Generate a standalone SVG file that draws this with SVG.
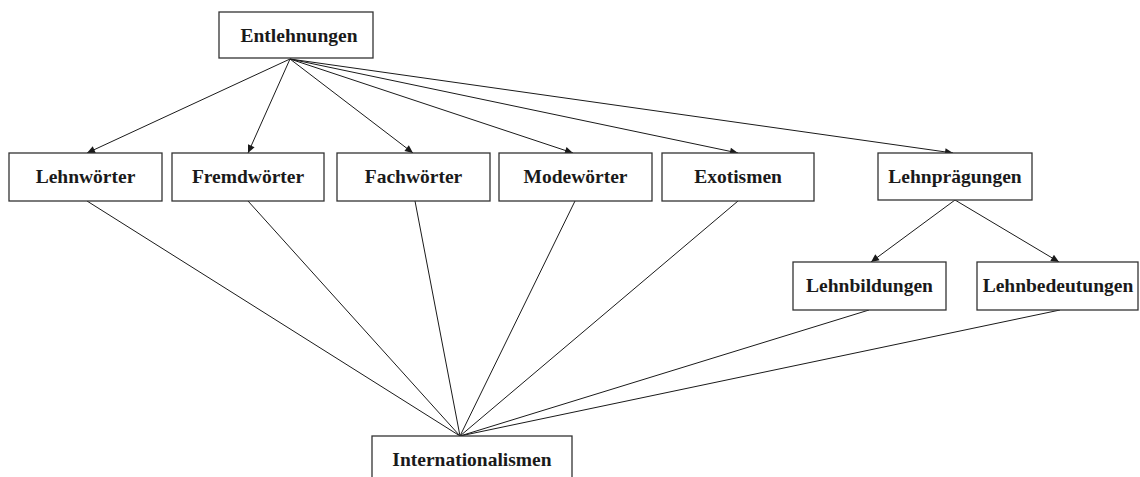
<svg xmlns="http://www.w3.org/2000/svg" width="1140" height="477" viewBox="0 0 1140 477">
<style>
.box{fill:#fff;stroke:#333;stroke-width:1.3}
.lbl{font-family:"Liberation Serif","Times New Roman",serif;font-weight:bold;font-size:19.5px;fill:#1a1a1a;text-anchor:middle}
.c{stroke:#1a1a1a;stroke-width:1;fill:none}
.a{marker-end:url(#arr)}
</style>
<defs>
<marker id="arr" viewBox="0 0 10 10" refX="10" refY="5" markerWidth="10" markerHeight="8" markerUnits="userSpaceOnUse" orient="auto">
<path d="M0,0.5 L10,5 L0,9.5 Z" fill="#1a1a1a"/>
</marker>
</defs>
<rect width="1140" height="477" fill="#fff"/>
<g id="connectors">
<line class="c a" x1="290" y1="59" x2="87" y2="153"/>
<line class="c a" x1="290" y1="59" x2="248" y2="153"/>
<line class="c a" x1="290" y1="59" x2="413" y2="153"/>
<line class="c a" x1="290" y1="59" x2="573" y2="153"/>
<line class="c a" x1="290" y1="59" x2="738" y2="153"/>
<line class="c a" x1="290" y1="59" x2="953" y2="153"/>
<line class="c a" x1="955" y1="200" x2="871" y2="262"/>
<line class="c a" x1="955" y1="200" x2="1059" y2="262"/>
<line class="c" x1="87" y1="201" x2="460" y2="436"/>
<line class="c" x1="248" y1="201" x2="460" y2="436"/>
<line class="c" x1="415" y1="201" x2="460" y2="436"/>
<line class="c" x1="575" y1="201" x2="460" y2="436"/>
<line class="c" x1="738" y1="201" x2="460" y2="436"/>
<line class="c" x1="869" y1="310" x2="460" y2="436"/>
<line class="c" x1="1060" y1="310" x2="460" y2="436"/>
</g>
<g id="entlehnungen"><rect class="box" x="219" y="12" width="154" height="46"/><text class="lbl" x="299" y="42">Entlehnungen</text></g>
<g id="lehnwoerter"><rect class="box" x="9" y="153" width="153" height="48"/><text class="lbl" x="85.5" y="183">Lehnwörter</text></g>
<g id="fremdwoerter"><rect class="box" x="172" y="153" width="152" height="48"/><text class="lbl" x="248" y="183">Fremdwörter</text></g>
<g id="fachwoerter"><rect class="box" x="337" y="153" width="153" height="48"/><text class="lbl" x="413.5" y="183">Fachwörter</text></g>
<g id="modewoerter"><rect class="box" x="499" y="153" width="153" height="48"/><text class="lbl" x="575.5" y="183">Modewörter</text></g>
<g id="exotismen"><rect class="box" x="662" y="153" width="152" height="48"/><text class="lbl" x="738" y="183">Exotismen</text></g>
<g id="lehnpraegungen"><rect class="box" x="878" y="153" width="154" height="47"/><text class="lbl" x="955" y="183">Lehnprägungen</text></g>
<g id="lehnbildungen"><rect class="box" x="793" y="262" width="153" height="48"/><text class="lbl" x="869.5" y="292">Lehnbildungen</text></g>
<g id="lehnbedeutungen"><rect class="box" x="977" y="262" width="161" height="48"/><text class="lbl" x="1058" y="292">Lehnbedeutungen</text></g>
<g id="internationalismen"><rect class="box" x="372" y="436" width="200" height="60"/><text class="lbl" x="472" y="466">Internationalismen</text></g>
</svg>
